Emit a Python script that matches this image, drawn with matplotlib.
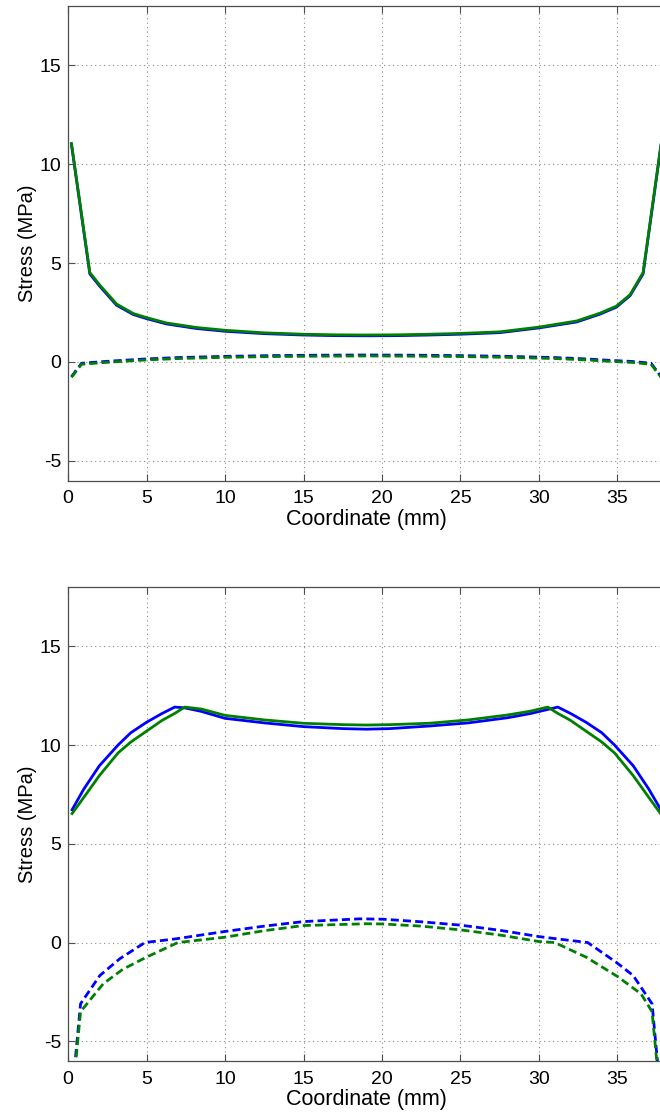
import matplotlib
matplotlib.use("Agg")
import matplotlib.pyplot as plt

plt.rcParams['font.family'] = ['Liberation Sans', 'DejaVu Sans']
plt.rcParams['axes.unicode_minus'] = False

# Upper panel: stress along the coordinate (first case)
x_top = [0.22, 1.39, 2.03, 3.09, 4.15, 5.0, 6.27, 8.18, 10.0, 12.5, 15.0, 17.0,
         19.0, 21.0, 23.0, 25.0, 27.5, 30.0, 32.4, 33.9, 34.93, 35.8, 36.63, 37.78]
sig_blue_top = [11.0, 4.45, 3.82, 2.87, 2.40, 2.19, 1.92, 1.69, 1.55, 1.43, 1.36, 1.33,
                1.32, 1.33, 1.36, 1.40, 1.48, 1.72, 2.02, 2.42, 2.77, 3.35, 4.45, 11.0]
sig_green_top = [11.05, 4.52, 3.88, 2.93, 2.45, 2.24, 1.97, 1.74, 1.60, 1.47, 1.40, 1.37,
                 1.36, 1.37, 1.40, 1.44, 1.52, 1.76, 2.07, 2.47, 2.82, 3.40, 4.52, 11.05]

x_top_d = [0.22, 0.86, 1.5, 2.5, 3.5, 5.0, 7.0, 10.0, 13.0, 16.0, 19.0,
           22.0, 25.0, 28.0, 31.0, 33.0, 34.5, 36.0, 37.14, 37.78]
tau_blue_top = [-0.75, -0.07, -0.03, 0.03, 0.08, 0.15, 0.22, 0.28, 0.32, 0.34, 0.35,
                0.34, 0.32, 0.28, 0.22, 0.15, 0.08, 0.02, -0.07, -0.75]
tau_green_top = [-0.78, -0.12, -0.08, -0.02, 0.03, 0.10, 0.17, 0.23, 0.27, 0.29, 0.30,
                 0.29, 0.27, 0.23, 0.17, 0.10, 0.03, -0.03, -0.12, -0.78]

# Lower panel: stress along the coordinate (second case)
x_bot = [0.26, 1.0, 2.0, 3.19, 4.0, 5.0, 6.0, 6.8, 7.44, 8.5, 10.0, 12.5, 15.0, 17.5,
         19.0, 20.5, 23.0, 25.5, 28.0, 29.5, 30.56, 31.2, 32.0, 33.0, 34.0, 34.81,
         36.0, 37.0, 37.74]
sig_blue_bot = [6.72, 7.76, 8.95, 10.0, 10.62, 11.15, 11.6, 11.92, 11.88, 11.7, 11.35,
                11.12, 10.93, 10.83, 10.80, 10.83, 10.96, 11.12, 11.38, 11.6, 11.8,
                11.92, 11.6, 11.15, 10.62, 10.0, 8.95, 7.76, 6.75]
sig_green_bot = [6.53, 7.34, 8.45, 9.6, 10.15, 10.7, 11.25, 11.6, 11.92, 11.82, 11.5,
                 11.27, 11.1, 11.03, 11.01, 11.03, 11.1, 11.27, 11.52, 11.72, 11.92,
                 11.6, 11.25, 10.7, 10.15, 9.6, 8.45, 7.34, 6.53]

x_bot_d = [0.1, 0.8, 2.03, 3.3, 4.9, 6.9, 10.0, 12.5, 15.0, 18.6, 20.07, 22.5, 25.0,
           27.5, 30.0, 31.1, 33.1, 34.9, 36.0, 37.2, 37.9]
tau_blue_bot = [-9.0, -3.1, -1.67, -0.82, 0.0, 0.19, 0.56, 0.83, 1.06, 1.2, 1.18, 1.05,
                0.88, 0.62, 0.3, 0.19, 0.0, -0.99, -1.67, -3.1, -9.0]
x_green_d = [0.1, 0.8, 2.24, 3.5, 5.0, 7.0, 10.0, 12.5, 15.0, 19.0, 20.0, 22.5, 25.0,
             27.5, 30.0, 31.0, 33.0, 35.0, 36.5, 37.2, 37.9]
tau_green_bot = [-9.3, -3.5, -2.09, -1.35, -0.74, 0.0, 0.27, 0.6, 0.86, 0.95, 0.94,
                 0.83, 0.64, 0.38, 0.05, 0.0, -0.74, -1.72, -2.6, -3.5, -9.3]

blue = (0, 0, 1)
green = (0, 0.5, 0)

fig = plt.figure(figsize=(6.6, 11.17), dpi=100)
left = 68 / 660
width = 38 * 15.7 / 660
ax1 = fig.add_axes([left, 0.5698, width, 0.4248])
ax2 = fig.add_axes([left, 0.0501, width, 0.4244])

for ax in (ax1, ax2):
    ax.set_xlim(0, 38)
    ax.set_ylim(-6, 18)
    ax.set_xticks([0, 5, 10, 15, 20, 25, 30, 35])
    ax.set_yticks([-5, 0, 5, 10, 15])
    ax.grid(True, linestyle=(0, (1, 3)), color='0.55', linewidth=0.8)
    ax.tick_params(direction='in', length=5, width=0.8, color='0.3',
                   top=True, labelsize=14)
    ax.tick_params(axis='x', pad=7)
    ax.tick_params(axis='y', pad=5)
    for s in ax.spines.values():
        s.set_color('0.3')
        s.set_linewidth(0.9)
    ax.set_xlabel('Coordinate (mm)', fontsize=15.5, labelpad=1)
    ax.set_ylabel('Stress (MPa)', fontsize=14.5, labelpad=2)

ax1.plot(x_top, sig_blue_top, color=blue, lw=2)
ax1.plot(x_top, sig_green_top, color=green, lw=2)
ax1.plot(x_top_d, tau_blue_top, color=blue, lw=2, dashes=(2.9, 1.5))
ax1.plot(x_top_d, tau_green_top, color=green, lw=2, dashes=(2.9, 1.5))

ax2.plot(x_bot, sig_blue_bot, color=blue, lw=2)
ax2.plot(x_bot, sig_green_bot, color=green, lw=2)
ax2.plot(x_bot_d, tau_blue_bot, color=blue, lw=2, dashes=(2.9, 1.5))
ax2.plot(x_green_d, tau_green_bot, color=green, lw=2, dashes=(2.9, 1.5))

fig.savefig('out.png', dpi=100)
